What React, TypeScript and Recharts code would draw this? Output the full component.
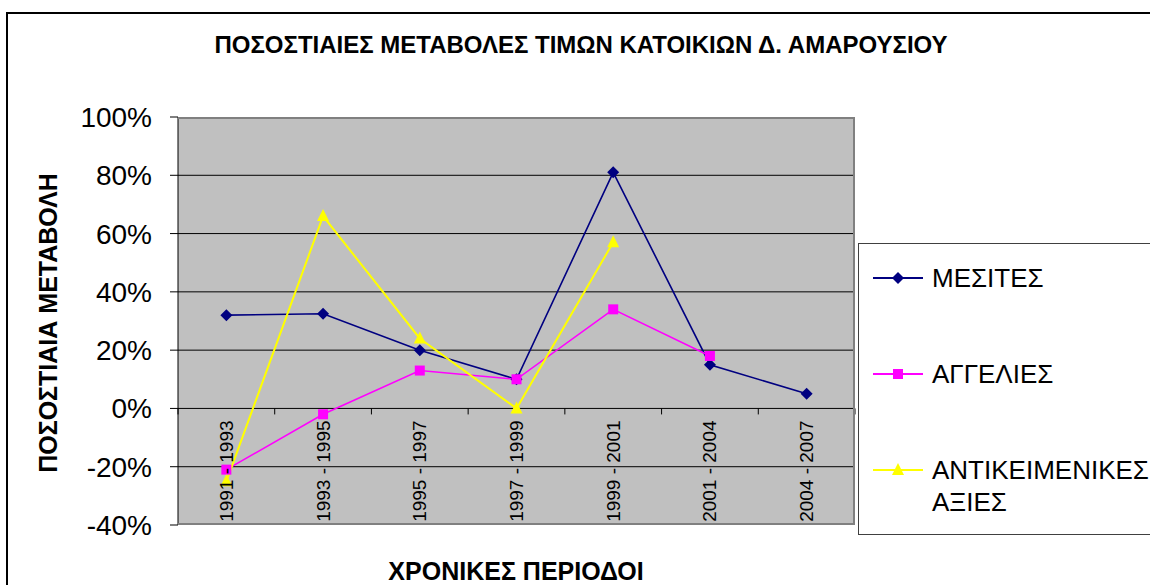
import React from "react";
import { LineChart, Line, XAxis, YAxis, CartesianGrid } from "recharts";

const periods = [
  "1991 - 1993",
  "1993 - 1995",
  "1995 - 1997",
  "1997 - 1999",
  "1999 - 2001",
  "2001 - 2004",
  "2004 - 2007",
];
const mesites = [32, 32.5, 20, 10, 81, 15, 5];
const aggelies: (number | null)[] = [-21, -2, 13, 10, 34, 18, null];
const antikeimenikes: (number | null)[] = [-25, 66, 24, 0, 57, null, null];
const yTicks = [-40, -20, 0, 20, 40, 60, 80, 100];
const gridValues = [-20, 0, 20, 40, 60, 80];

const data = periods.map((p, i) => ({
  period: p,
  mesites: mesites[i],
  aggelies: aggelies[i],
  antik: antikeimenikes[i],
}));

const FONT = '"Liberation Sans", Arial, sans-serif';
const W = 1150;
const H = 585;
const PLOT_LEFT = 178;
const PLOT_RIGHT = 855;
const PLOT_TOP = 117;
const PLOT_BOTTOM = 525;
const Y_MIN = -40;
const Y_MAX = 100;
const BAND = (PLOT_RIGHT - PLOT_LEFT) / periods.length;
const ZERO_Y = PLOT_TOP + ((PLOT_BOTTOM - PLOT_TOP) * Y_MAX) / (Y_MAX - Y_MIN);

const NAVY = "#000080";
const MAGENTA = "#FF00FF";
const YELLOW = "#FFFF00";

const Diamond = (props: any) => {
  const { cx, cy, index } = props;
  if (cx == null || cy == null) return <g key={`d${index}`} />;
  return (
    <path
      key={`d${index}`}
      d={`M${cx},${cy - 6}L${cx + 6},${cy}L${cx},${cy + 6}L${cx - 6},${cy}Z`}
      fill={NAVY}
    />
  );
};

const Square = (props: any) => {
  const { cx, cy, index } = props;
  if (cx == null || cy == null) return <g key={`s${index}`} />;
  return <rect key={`s${index}`} x={cx - 5} y={cy - 5} width={10} height={10} fill={MAGENTA} />;
};

const Triangle = (props: any) => {
  const { cx, cy, index } = props;
  if (cx == null || cy == null) return <g key={`t${index}`} />;
  return (
    <path
      key={`t${index}`}
      d={`M${cx},${cy - 7}L${cx + 6},${cy + 5}L${cx - 6},${cy + 5}Z`}
      fill={YELLOW}
    />
  );
};

const PeriodTick = (props: any) => {
  const { x, payload, index } = props;
  const ty = ZERO_Y + 12;
  return (
    <g>
      <line x1={x - BAND / 2} y1={ZERO_Y} x2={x - BAND / 2} y2={ZERO_Y + 6} stroke="#000" />
      {index === periods.length - 1 && (
        <line x1={x + BAND / 2} y1={ZERO_Y} x2={x + BAND / 2} y2={ZERO_Y + 6} stroke="#000" />
      )}
      <text
        x={x}
        y={ty}
        transform={`rotate(-90, ${x}, ${ty})`}
        textAnchor="end"
        dominantBaseline="central"
        fontFamily={FONT}
        fontSize={19}
        fill="#000"
      >
        {payload.value}
      </text>
    </g>
  );
};

const legendItems = [
  { label: ["ΜΕΣΙΤΕΣ"], color: NAVY, shape: "diamond", top: 277 },
  { label: ["ΑΓΓΕΛΙΕΣ"], color: MAGENTA, shape: "square", top: 373 },
  { label: ["ΑΝΤΙΚΕΙΜΕΝΙΚΕΣ", "ΑΞΙΕΣ"], color: YELLOW, shape: "triangle", top: 469 },
];

const LegendBox = () => (
  <div
    style={{
      position: "absolute",
      left: 858,
      top: 243,
      width: 300,
      height: 292,
      border: "1px solid #404040",
      background: "#fff",
      boxSizing: "border-box",
    }}
  >
    {legendItems.map((it) => (
      <div key={it.label[0]} style={{ position: "absolute", left: 0, top: it.top - 243 - 16 }}>
        <svg width={70} height={32} style={{ position: "absolute", left: 14, top: 0 }}>
          <line x1={0} y1={16} x2={50} y2={16} stroke={it.color} strokeWidth={2} />
          {it.shape === "diamond" && <path d="M25,10L31,16L25,22L19,16Z" fill={it.color} />}
          {it.shape === "square" && <rect x={20} y={11} width={10} height={10} fill={it.color} />}
          {it.shape === "triangle" && <path d="M25,9L31,21L19,21Z" fill={it.color} />}
        </svg>
        <div
          style={{
            position: "absolute",
            left: 73,
            top: 0,
            fontFamily: FONT,
            fontSize: 26,
            lineHeight: "32px",
            whiteSpace: "nowrap",
            color: "#000",
          }}
        >
          {it.label.map((l) => (
            <div key={l}>{l}</div>
          ))}
        </div>
      </div>
    ))}
  </div>
);

export default function App() {
  return (
    <div
      style={{
        position: "absolute",
        left: 0,
        top: 0,
        width: W,
        height: H,
        overflow: "hidden",
        background: "#fff",
      }}
    >
      <div
        style={{
          position: "absolute",
          left: 6,
          top: 12,
          width: 1300,
          height: 800,
          border: "2px solid #000",
        }}
      />
      <div
        style={{
          position: "absolute",
          left: 0,
          width: 1162,
          top: 30,
          textAlign: "center",
          fontFamily: FONT,
          fontWeight: "bold",
          fontSize: 24,
          lineHeight: "30px",
        }}
      >
        ΠΟΣΟΣΤΙΑΙΕΣ ΜΕΤΑΒΟΛΕΣ ΤΙΜΩΝ ΚΑΤΟΙΚΙΩΝ Δ. ΑΜΑΡΟΥΣΙΟΥ
      </div>
      <div style={{ position: "absolute", left: 0, top: 0 }}>
        <LineChart
          width={W}
          height={H}
          data={data}
          margin={{ top: PLOT_TOP, right: W - PLOT_RIGHT, bottom: H - PLOT_BOTTOM - 1, left: PLOT_LEFT - 100 }}
        >
          <CartesianGrid
            vertical={false}
            horizontalValues={gridValues}
            stroke="#000"
            fill="#C0C0C0"
            fillOpacity={1}
          />
          <XAxis
            dataKey="period"
            height={1}
            axisLine={false}
            tickLine={false}
            interval={0}
            padding={{ left: BAND / 2, right: BAND / 2 }}
            tick={<PeriodTick />}
          />
          <YAxis
            width={100}
            domain={[Y_MIN, Y_MAX]}
            ticks={yTicks}
            interval={0}
            tickFormatter={(v: number) => `${v}%`}
            axisLine={{ stroke: "#000" }}
            tickLine={{ stroke: "#000" }}
            tickSize={8}
            tickMargin={18}
            tick={{ fontFamily: FONT, fontSize: 28, fill: "#000" }}
          />
          <Line
            dataKey="mesites"
            name="ΜΕΣΙΤΕΣ"
            type="linear"
            stroke={NAVY}
            strokeWidth={1.6}
            dot={Diamond}
            activeDot={false}
            isAnimationActive={false}
          />
          <Line
            dataKey="aggelies"
            name="ΑΓΓΕΛΙΕΣ"
            type="linear"
            stroke={MAGENTA}
            strokeWidth={1.6}
            dot={Square}
            activeDot={false}
            isAnimationActive={false}
          />
          <Line
            dataKey="antik"
            name="ΑΝΤΙΚΕΙΜΕΝΙΚΕΣ ΑΞΙΕΣ"
            type="linear"
            stroke={YELLOW}
            strokeWidth={2}
            dot={Triangle}
            activeDot={false}
            isAnimationActive={false}
          />
        </LineChart>
      </div>
      {/* plot area frame (gray, like the original) */}
      <div
        style={{
          position: "absolute",
          left: PLOT_LEFT,
          top: PLOT_TOP,
          width: PLOT_RIGHT - PLOT_LEFT,
          height: PLOT_BOTTOM - PLOT_TOP,
          borderTop: "2px solid #808080",
          borderRight: "2px solid #808080",
          borderBottom: "2px solid #808080",
          boxSizing: "border-box",
          pointerEvents: "none",
        }}
      />
      <div
        style={{
          position: "absolute",
          left: 48,
          top: 323,
          transform: "translate(-50%, -50%) rotate(-90deg)",
          fontFamily: FONT,
          fontWeight: "bold",
          fontSize: 25,
          whiteSpace: "nowrap",
        }}
      >
        ΠΟΣΟΣΤΙΑΙΑ ΜΕΤΑΒΟΛΗ
      </div>
      <div
        style={{
          position: "absolute",
          left: 516,
          top: 571,
          transform: "translate(-50%, -50%)",
          fontFamily: FONT,
          fontWeight: "bold",
          fontSize: 25,
          whiteSpace: "nowrap",
        }}
      >
        ΧΡΟΝΙΚΕΣ ΠΕΡΙΟΔΟΙ
      </div>
      <LegendBox />
    </div>
  );
}
